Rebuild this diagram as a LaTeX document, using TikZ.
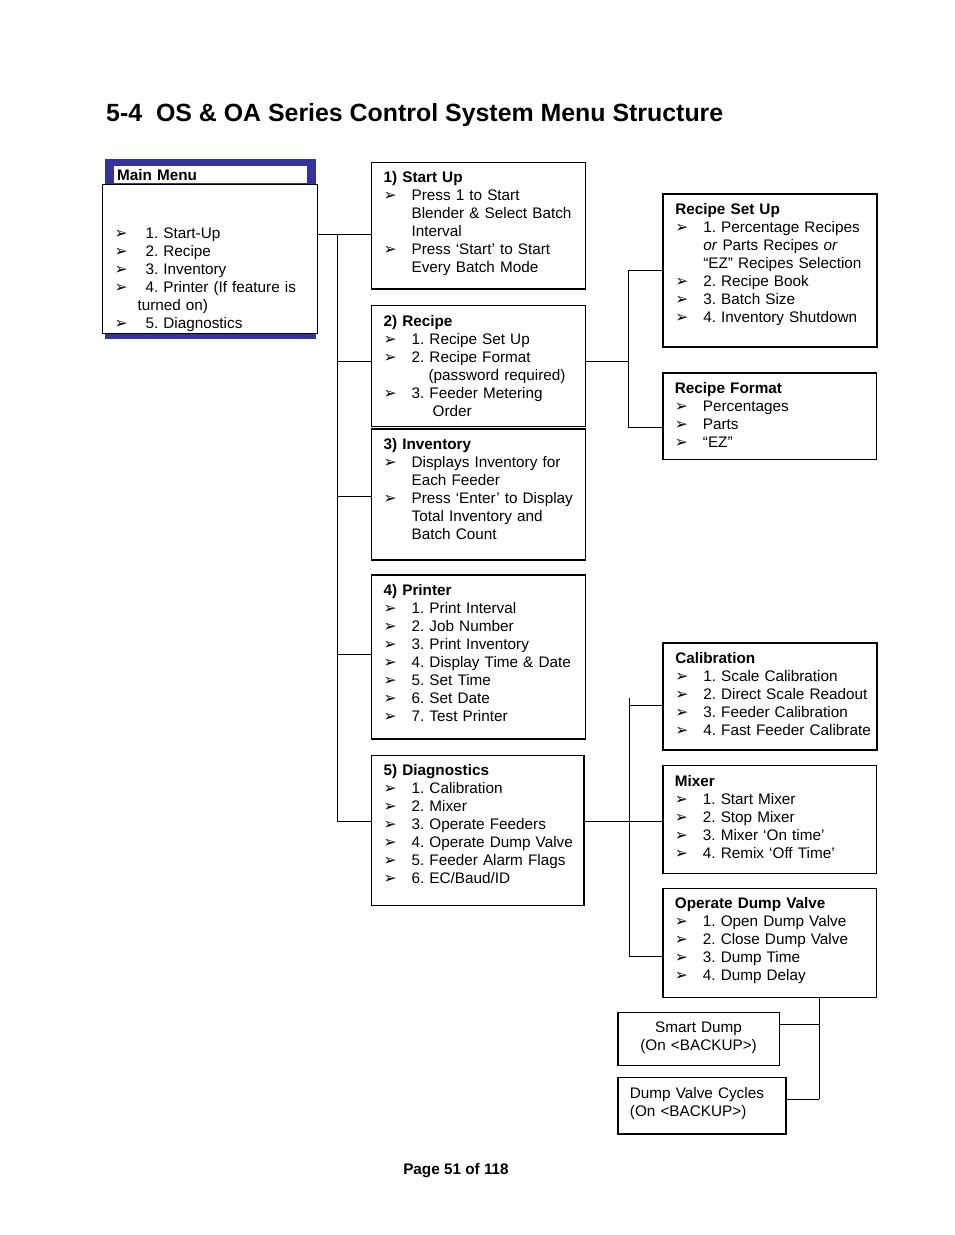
\documentclass[tikz,border=0pt]{standalone}
\usepackage{fontspec}
\setmainfont{Liberation Sans}
\newfontfamily\arwfont{DejaVu Sans}
\usetikzlibrary{calc}

\definecolor{menunavy}{RGB}{51,51,153}
\frenchspacing
\hyphenpenalty=10000
\newcommand\bodyfont{\fontsize{15.3}{18}\selectfont}
\newcommand\arw{{\arwfont\fontsize{15.5}{15.5}\selectfont ➢}}
% heading line and bullet line of a menu box
\newcommand\hd[1]{\rightskip=-30pt plus 1fil\hspace*{8pt}\textbf{#1}}
\newcommand\itm[2][28pt]{\par\rightskip=-30pt plus 1fil\hangindent=\dimexpr8pt+#1\relax\hangafter=1\noindent\hspace*{8pt}\makebox[#1][l]{\arw}#2}

\begin{document}
\begin{tikzpicture}[x=1pt, y=-1pt,
    every node/.style={font=\bodyfont},
    menubox/.style={draw, line width=1.2pt, anchor=north west, inner xsep=4pt, inner ysep=4pt, align=left, text height=16.5pt},
    keybox/.style={menubox, line width=2pt},
    link/.style={line width=1pt}]
\useasboundingbox (0,0) rectangle (954,1235);

\node[anchor=base west, inner sep=0pt, font=\fontsize{24.9}{29}\selectfont\bfseries] (title) at (106,121.7) {5-4~~OS \& OA Series Control System Menu Structure};

% main menu
\node[fill=menunavy, anchor=north west, minimum width=211.4pt, minimum height=180pt, inner sep=0pt] (mainframe) at (104.3,159) {};
\node[menubox, line width=1pt, fill=white, text width=207pt, text height=31.6pt, text depth=109.1pt] (mainbody) at (102,184) {
  \itm[31pt]{1. Start-Up}
  \itm[31pt]{2. Recipe}
  \itm[31pt]{3. Inventory}
  \itm[31pt]{4. Printer (If feature is\newline\hspace*{-8pt}turned on)}
  \itm[31pt]{5. Diagnostics}\par};
\node[fill=white, anchor=north west, minimum width=193pt, minimum height=17.3pt, inner xsep=3pt, inner ysep=0pt, text width=187pt, align=left, font=\bodyfont\bfseries] (maintitle) at (114,165.7) {Main Menu};

% first level
\node[menubox, text width=205.5pt, text depth=102.1pt] (start) at (371,161.7) {\hd{1) Start Up}
  \itm{Press 1 to Start\newline Blender \& Select Batch\newline Interval}
  \itm{Press ‘Start’ to Start\newline Every Batch Mode}\par};
\node[menubox, text width=205.5pt, text depth=96.5pt] (recipe) at (371,305) {\hd{2) Recipe}
  \itm{1. Recipe Set Up}
  \itm{2. Recipe Format\newline\hspace*{17pt}(password required)}
  \itm{3. Feeder Metering\newline\hspace*{21pt}Order}\par};
\node[menubox, text width=205.5pt, text depth=106.5pt] (inventory) at (371,428.3) {\hd{3) Inventory}
  \itm{Displays Inventory for\newline Each Feeder}
  \itm{Press ‘Enter’ to Display\newline Total Inventory and\newline Batch Count}\par};
\node[menubox, text width=205.5pt, text depth=139.5pt] (printer) at (371,574.3) {\hd{4) Printer}
  \itm{1. Print Interval}
  \itm{2. Job Number}
  \itm{3. Print Inventory}
  \itm{4. Display Time \& Date}
  \itm{5. Set Time}
  \itm{6. Set Date}
  \itm{7. Test Printer}\par};
\node[menubox, text width=204.3pt, text depth=125.8pt] (diag) at (371,754.7) {\hd{5) Diagnostics}
  \itm{1. Calibration}
  \itm{2. Mixer}
  \itm{3. Operate Feeders}
  \itm{4. Operate Dump Valve}
  \itm{5. Feeder Alarm Flags}
  \itm{6. EC/Baud/ID}\par};

% recipe sub menus
\node[keybox, text width=205.7pt, text depth=127.9pt] (rsetup) at (662.3,193.3) {\hd{Recipe Set Up}
  \itm{1. Percentage Recipes\newline \textit{or} Parts Recipes \textit{or}\newline “EZ” Recipes Selection}
  \itm{2. Recipe Book}
  \itm{3. Batch Size}
  \itm{4. Inventory Shutdown}\par};
\node[menubox, text width=205.7pt, text depth=62.2pt] (rformat) at (662.3,372.3) {\hd{Recipe Format}
  \itm{Percentages}
  \itm{Parts}
  \itm{“EZ”}\par};

% diagnostics sub menus
\node[keybox, text width=205.7pt, text depth=83.1pt] (calib) at (662.3,641.7) {\hd{Calibration}
  \itm{1. Scale Calibration}
  \itm{2. Direct Scale Readout}
  \itm{3. Feeder Calibration}
  \itm{4. Fast Feeder Calibrate}\par};
\node[menubox, text width=205.7pt, text depth=83.2pt] (mixer) at (662.3,765) {\hd{Mixer}
  \itm{1. Start Mixer}
  \itm{2. Stop Mixer}
  \itm{3. Mixer ‘On time’}
  \itm{4. Remix ‘Off Time’}\par};
\node[menubox, text width=205.7pt, text depth=84.5pt] (odv) at (662.3,887.7) {\hd{Operate Dump Valve}
  \itm{1. Open Dump Valve}
  \itm{2. Close Dump Valve}
  \itm{3. Dump Time}
  \itm{4. Dump Delay}\par};
\node[menubox, align=center, text width=153.4pt, text height=15.9pt, text depth=29.4pt] (smart) at (617.3,1011.7) {Smart Dump\\(On <BACKUP>)};
\node[menubox, text width=160pt, text height=16.9pt, text depth=31.7pt] (cycles) at (617.3,1076.7) {\hspace*{8pt}Dump Valve Cycles\\\hspace*{8pt}(On <BACKUP>)};

\node[anchor=base, inner sep=0pt, font=\bodyfont\bfseries] (page) at (456,1174.6) {Page 51 of 118};

% connectors
\coordinate (jstart) at (337,234);
\coordinate (jrecipe) at (337,361);
\coordinate (jinv) at (337,496);
\coordinate (jprint) at (337,654);
\coordinate (jdiag) at (337,821);
\draw[link] (mainbody.east |- jstart) -- (start.west |- jstart);
\draw[link] (jstart) -- (jdiag);
\foreach \j/\b in {jrecipe/recipe, jinv/inventory, jprint/printer, jdiag/diag}
  \draw[link] (\j) -- (\b.west |- \j);

\coordinate (jr) at (628,361);
\coordinate (jrbot) at (628,427.7);
\draw[link] (recipe.east |- jr) -- (jr);
\draw[link] (rsetup.west -| jr) -- (jrbot);
\draw[link] (rsetup.west -| jr) -- (rsetup.west);
\draw[link] (jrbot) -- (rformat.west |- jrbot);

\coordinate (jd) at (629,821);
\coordinate (jdtop) at (629,698.3);
\coordinate (jcalib) at (629,705);
\coordinate (jdbot) at (629,956);
\draw[link] (diag.east |- jd) -- (jd);
\draw[link] (jdtop) -- (jdbot);
\draw[link] (jcalib) -- (calib.west |- jcalib);
\draw[link] (jd) -- (mixer.west |- jd);
\draw[link] (jdbot) -- (odv.west |- jdbot);

\coordinate (jsmart) at (819.3,1024.3);
\coordinate (jcycles) at (819.3,1099);
\draw[link] (odv.south -| jsmart) -- (jcycles);
\draw[link] (jsmart) -- (smart.east |- jsmart);
\draw[link] (jcycles) -- (cycles.east |- jcycles);
\end{tikzpicture}
\end{document}
